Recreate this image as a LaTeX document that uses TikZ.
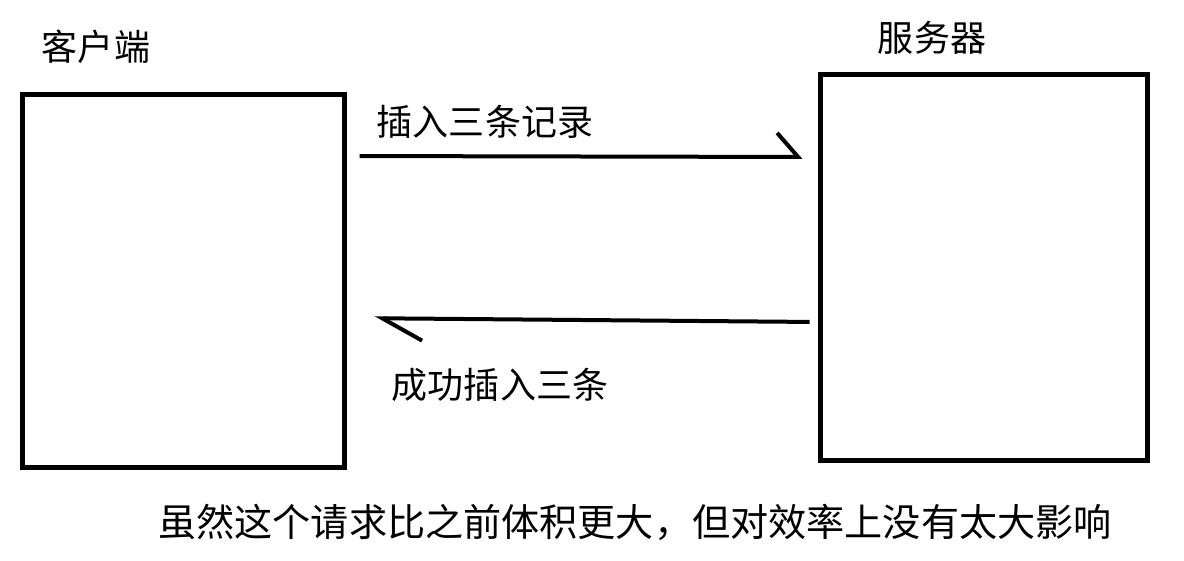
\documentclass[tikz,border=0pt]{standalone}
\usepackage{fontspec}
\setmainfont{Noto Sans CJK SC}
\usetikzlibrary{arrows.meta}

\begin{document}
\begin{tikzpicture}[
    box/.style={draw, line width=0.1cm, inner sep=0pt},
    msg/.style 2 args={line width=0.08cm, -{Straight Barb[left, length=#1, width=#2]}},
    lbl/.style={font=\fontsize{20.5pt}{24pt}\selectfont}
]
    \useasboundingbox (0, 0) rectangle (23.68, -11.2);

    % 客户端与服务器
    \node[box, minimum width=6.44cm, minimum height=7.46cm] (client) at (3.66, -5.61) {};
    \node[box, minimum width=6.54cm, minimum height=7.72cm] (server) at (19.67, -5.34) {};
    \node[lbl] (clientname) at (1.92, -0.94) {客户端};
    \node[lbl] (servername) at (18.64, -0.76) {服务器};

    % 请求
    \draw[msg={0.42cm}{0.96cm}, shorten <=0.26cm, shorten >=0.3cm]
        ([yshift=2.49cm]client.east) -- ([yshift=2.2cm]server.west);
    \node[lbl] (reqtext) at (9.7, -2.44) {插入三条记录};

    % 响应
    \draw[msg={0.8cm}{0.88cm}, shorten <=0.16cm, shorten >=0.56cm]
        ([yshift=-1.1cm]server.west) -- ([yshift=-0.75cm]client.east);
    \node[lbl] (resptext) at (10.0, -7.7) {成功插入三条};

    % 说明
    \node[font=\fontsize{21.7pt}{26pt}\selectfont] (note) at (12.7, -10.44)
        {虽然这个请求比之前体积更大，但对效率上没有太大影响};
\end{tikzpicture}
\end{document}
